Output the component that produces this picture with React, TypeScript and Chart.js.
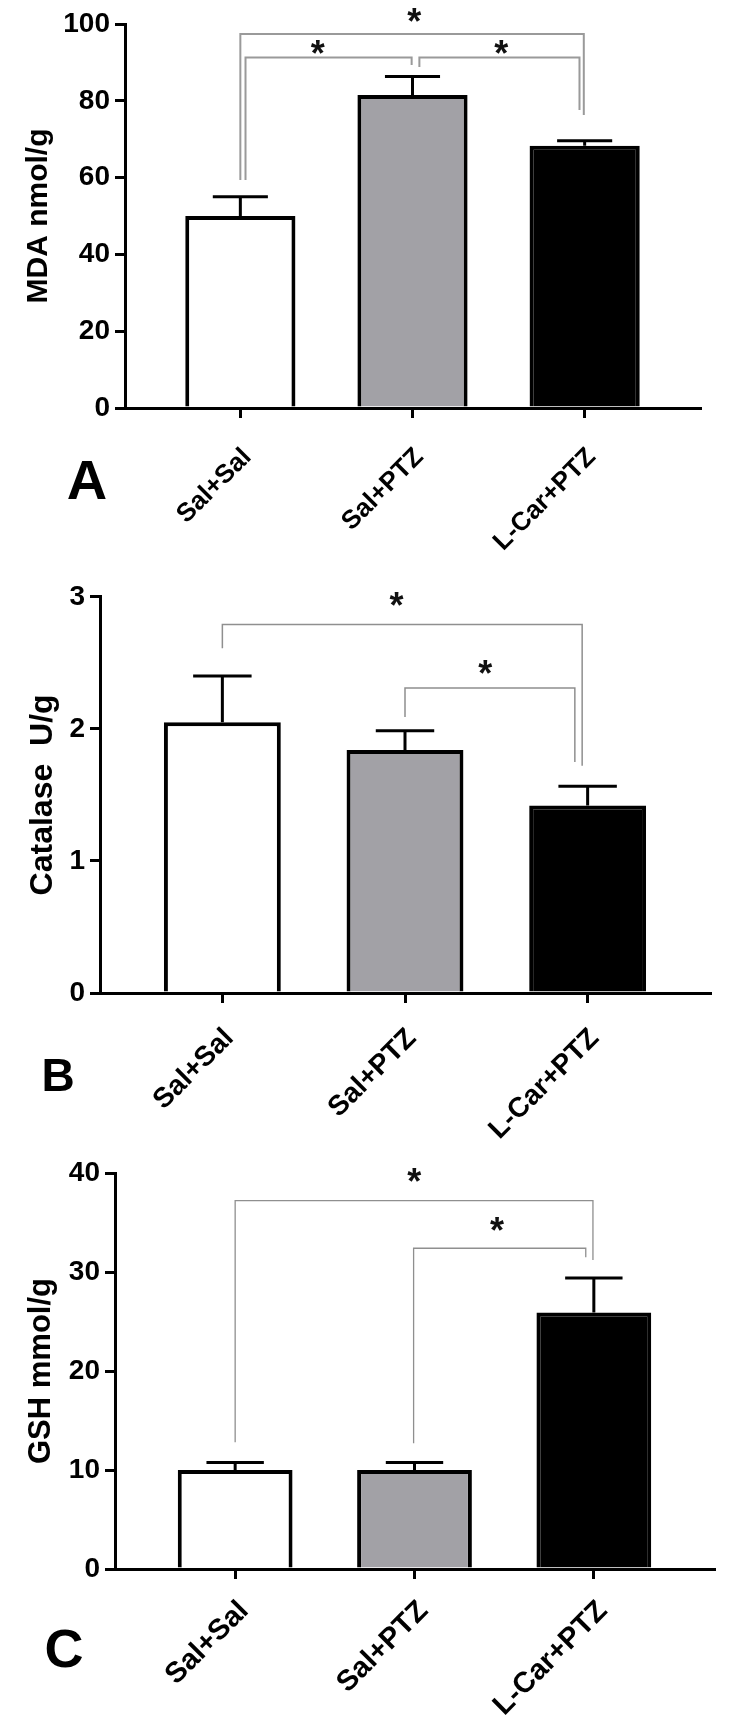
import React, { useEffect, useRef } from 'react';
import { Chart, registerables } from 'chart.js';

Chart.register(...registerables);

const FONT = '"Liberation Sans", Arial, Helvetica, sans-serif';

// ---------- data ----------
const categories = ['Sal+Sal', 'Sal+PTZ', 'L-Car+PTZ'];

const mdaMeans = [50.0, 81.5, 68.3];
const mdaSem = [5.0, 4.8, 1.3];
const mdaTicks = [0, 20, 40, 60, 80, 100];

const catalaseMeans = [2.05, 1.84, 1.42];
const catalaseSem = [0.35, 0.145, 0.145];
const catalaseTicks = [0, 1, 2, 3];

const gshMeans = [10.0, 10.0, 25.9];
const gshSem = [0.75, 0.75, 3.5];
const gshTicks = [0, 10, 20, 30, 40];

// significance brackets: [fromPos, toPos, level, leftLegEnd, rightLegEnd, starPos, starLevel]
const mdaBrackets = [
  [0.0, 1.995, 97.4, 59.4, 76.3, 1.01, 102.3],
  [0.03, 0.995, 91.3, 59.4, 89.3, 0.45, 94.0],
  [1.04, 1.97, 91.3, 88.8, 77.6, 1.515, 94.0],
];
const catalaseBrackets = [
  [0.0, 1.97, 2.79, 2.61, 1.72, 0.953, 2.985],
  [1.0, 1.93, 2.31, 2.09, 1.75, 1.44, 2.47],
];
const gshBrackets = [
  [0.0, 1.995, 37.2, 12.8, 31.2, 0.998, 39.8],
  [0.995, 1.955, 32.4, 12.7, 31.5, 1.46, 34.85],
];

const barColors = ['#ffffff', '#a2a1a6', '#000000'];

// ---------- panel layout ----------
interface Panel {
  letter: string;
  title: string;
  means: number[];
  sem: number[];
  ticks: number[];
  brackets: number[][];
  top: number;
  height: number;
  padRight: number;
  padTop: number;
  yWidth: number;
  xHeight: number;
  titleSize: number;
  titlePad: number;
  xFont: number;
  xPad: number;
  xShift: number;
  letterSize: number;
  letterX: number;
  letterY: number;
  bracketColor: string;
  bracketWidth: number;
}

const panels: Panel[] = [
  {
    letter: 'A', title: 'MDA nmol/g', means: mdaMeans, sem: mdaSem, ticks: mdaTicks, brackets: mdaBrackets,
    top: 0, height: 575, padRight: 31, padTop: 24, yWidth: 125, xHeight: 167,
    titleSize: 30, titlePad: 21, xFont: 26, xPad: 24, xShift: 7,
    letterSize: 56, letterX: 87, letterY: 480,
    bracketColor: '#9a9a9a', bracketWidth: 2,
  },
  {
    letter: 'B', title: 'Catalase  U/g', means: catalaseMeans, sem: catalaseSem, ticks: catalaseTicks, brackets: catalaseBrackets,
    top: 575, height: 570, padRight: 21, padTop: 16, yWidth: 100, xHeight: 152,
    titleSize: 32, titlePad: 24, xFont: 28, xPad: 19, xShift: 7,
    letterSize: 46, letterX: 58, letterY: 500,
    bracketColor: '#8f8f8f', bracketWidth: 1.5,
  },
  {
    letter: 'C', title: 'GSH mmol/g', means: gshMeans, sem: gshSem, ticks: gshTicks, brackets: gshBrackets,
    top: 1145, height: 586, padRight: 17, padTop: 28, yWidth: 115, xHeight: 162,
    titleSize: 31, titlePad: 23, xFont: 29, xPad: 15, xShift: 9,
    letterSize: 54, letterX: 64, letterY: 503,
    bracketColor: '#8f8f8f', bracketWidth: 1.3,
  },
];

function centeredText(ctx: CanvasRenderingContext2D, text: string, cx: number, cy: number) {
  const m = ctx.measureText(text);
  const base = cy + (m.actualBoundingBoxAscent - m.actualBoundingBoxDescent) / 2;
  ctx.textAlign = 'center';
  ctx.textBaseline = 'alphabetic';
  ctx.fillText(text, cx, base);
}

function PanelChart({ p }: { p: Panel }) {
  const ref = useRef<HTMLCanvasElement | null>(null);

  useEffect(() => {
    if (!ref.current) return;

    const annotate = {
      id: 'annotate' + p.letter,
      afterDatasetsDraw(chart: any) {
        const ctx: CanvasRenderingContext2D = chart.ctx;
        const xs = chart.scales.x;
        const ys = chart.scales.y;
        const meta = chart.getDatasetMeta(0);
        ctx.save();
        // error bars (upper only)
        ctx.strokeStyle = '#000';
        ctx.lineWidth = 3;
        meta.data.forEach((bar: any, i: number) => {
          const x = bar.x;
          const yTop = ys.getPixelForValue(p.means[i]);
          const yCap = ys.getPixelForValue(p.means[i] + p.sem[i]);
          const half = bar.width / 4;
          ctx.beginPath();
          ctx.moveTo(x, yTop);
          ctx.lineTo(x, yCap);
          ctx.moveTo(x - half, yCap);
          ctx.lineTo(x + half, yCap);
          ctx.stroke();
        });
        // brackets
        ctx.strokeStyle = p.bracketColor;
        ctx.lineWidth = p.bracketWidth;
        p.brackets.forEach((b) => {
          const x1 = xs.getPixelForValue(b[0]);
          const x2 = xs.getPixelForValue(b[1]);
          const yl = ys.getPixelForValue(b[2]);
          const y1 = ys.getPixelForValue(b[3]);
          const y2 = ys.getPixelForValue(b[4]);
          ctx.beginPath();
          ctx.moveTo(x1, y1);
          ctx.lineTo(x1, yl);
          ctx.lineTo(x2, yl);
          ctx.lineTo(x2, y2);
          ctx.stroke();
        });
        // stars
        ctx.fillStyle = '#111';
        ctx.font = `bold 36px ${FONT}`;
        p.brackets.forEach((b) => {
          centeredText(ctx, '*', xs.getPixelForValue(b[5]), ys.getPixelForValue(b[6]));
        });
        // panel letter
        ctx.fillStyle = '#000';
        ctx.font = `bold ${p.letterSize}px ${FONT}`;
        centeredText(ctx, p.letter, p.letterX, p.letterY);
        ctx.restore();
      },
    };

    const chart = new Chart(ref.current, {
      type: 'bar',
      data: {
        datasets: [
          {
            data: categories.map((_, i) => ({ x: i, y: p.means[i] })),
            backgroundColor: barColors,
            borderColor: '#000',
            borderWidth: 4,
            borderSkipped: 'start',
            categoryPercentage: 0.8,
            barPercentage: 0.8,
          } as any,
        ],
      },
      options: {
        responsive: false,
        animation: false,
        devicePixelRatio: 1,
        layout: { padding: { left: 0, right: p.padRight, top: p.padTop, bottom: 0 } },
        plugins: { legend: { display: false }, tooltip: { enabled: false } },
        scales: {
          x: {
            type: 'linear',
            min: -0.67,
            max: 2.67,
            offset: false,
            afterBuildTicks: (s: any) => {
              s.ticks = categories.map((_, i) => ({ value: i }));
            },
            afterFit: (s: any) => {
              s.height = p.xHeight;
            },
            ticks: {
              autoSkip: false,
              minRotation: 45,
              maxRotation: 45,
              padding: p.xPad,
              labelOffset: p.xShift,
              color: '#000',
              font: { family: FONT, size: p.xFont, weight: 'bold' },
              callback: (v: any) => categories[Math.round(Number(v))] ?? '',
            },
            grid: {
              offset: false,
              drawOnChartArea: false,
              drawTicks: true,
              tickLength: 10,
              lineWidth: 3,
              color: '#000',
            },
            border: { display: true, color: '#000', width: 3 },
          },
          y: {
            type: 'linear',
            min: p.ticks[0],
            max: p.ticks[p.ticks.length - 1],
            afterBuildTicks: (s: any) => {
              s.ticks = p.ticks.map((v) => ({ value: v }));
            },
            afterFit: (s: any) => {
              s.width = p.yWidth;
            },
            ticks: {
              padding: 5,
              color: '#000',
              font: { family: FONT, size: 28, weight: 'bold' },
            },
            grid: {
              drawOnChartArea: false,
              drawTicks: true,
              tickLength: 10,
              lineWidth: 3,
              color: '#000',
            },
            border: { display: true, color: '#000', width: 3 },
            title: {
              display: true,
              text: p.title,
              color: '#000',
              padding: { top: p.titlePad, bottom: 0 },
              font: { family: FONT, size: p.titleSize, weight: 'bold' },
            },
          },
        },
      } as any,
      plugins: [annotate],
    });

    return () => chart.destroy();
  }, [p]);

  return (
    <div style={{ position: 'absolute', left: 0, top: p.top, width: 731, height: p.height }}>
      <canvas ref={ref} width={731} height={p.height} style={{ width: 731, height: p.height, display: 'block' }} />
    </div>
  );
}

export default function App() {
  return (
    <div style={{ position: 'absolute', left: 0, top: 0, width: 731, height: 1731, background: '#fff' }}>
      {panels.map((p) => (
        <PanelChart key={p.letter} p={p} />
      ))}
    </div>
  );
}
